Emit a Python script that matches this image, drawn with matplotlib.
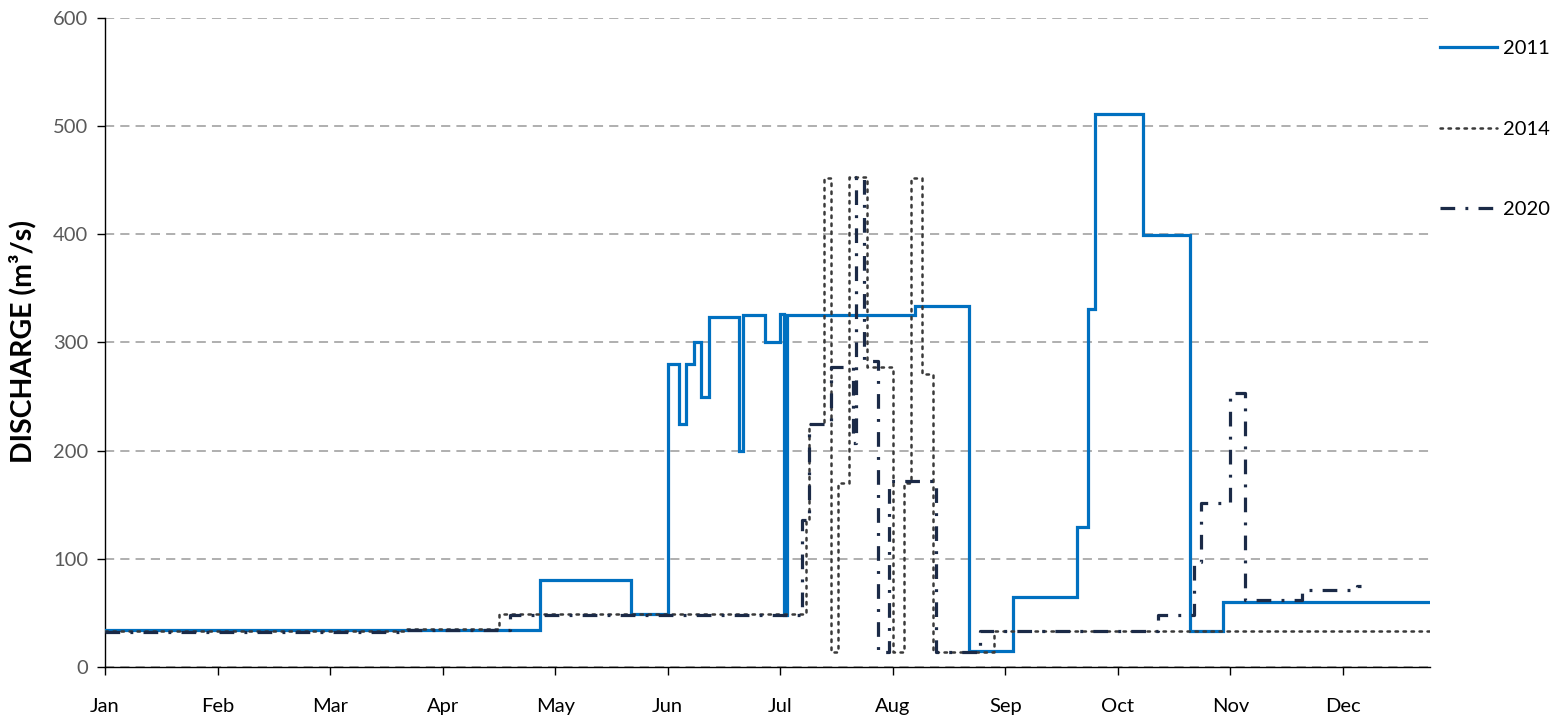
import matplotlib
matplotlib.use("Agg")
import matplotlib.pyplot as plt
from matplotlib.lines import Line2D

plt.rcParams['font.family'] = ['Lato', 'DejaVu Sans']

# ---- data (month-day, discharge m3/s) : step series ----
months = ["Jan", "Feb", "Mar", "Apr", "May", "Jun", "Jul", "Aug", "Sep", "Oct", "Nov", "Dec"]

dates_2011 = ["01-01", "04-27", "05-22", "06-01", "06-04", "06-06", "06-08", "06-10", "06-12",
              "06-20", "06-21", "06-27", "07-01", "07-02", "07-03", "08-07", "08-22", "09-03",
              "09-20", "09-23", "09-25", "10-08", "10-21", "10-30", "12-25"]
flow_2011 = [34, 80, 49, 280, 225, 280, 300, 250, 324,
             200, 325, 300, 326, 48, 325, 334, 15, 65,
             129, 331, 511, 399, 33, 60, 60]

dates_2014 = ["01-01", "03-22", "04-16", "07-08", "07-09", "07-13", "07-15", "07-17", "07-20",
              "07-25", "08-01", "08-04", "08-06", "08-09", "08-12", "08-29", "12-25"]
flow_2014 = [33, 35, 49, 136, 225, 452, 14, 170, 453,
             277, 14, 170, 452, 271, 14, 33, 33]

dates_2020 = ["01-01", "03-22", "04-19", "07-07", "07-09", "07-15", "07-21", "07-22", "07-24",
              "07-28", "07-31", "08-13", "08-25", "10-12", "10-22", "10-24", "11-01", "11-05",
              "11-20", "12-05", "12-06"]
flow_2020 = [32, 34, 48, 136, 225, 277, 207, 453, 283,
             14, 172, 14, 33, 48, 97, 152, 253, 62,
             71, 75, 75]

days_in_month = [31, 28, 31, 30, 31, 30, 31, 31, 30, 31, 30, 31]


def month_pos(md):
    m, d = (int(v) for v in md.split("-"))
    return (m - 1) + (d - 1) / days_in_month[m - 1]


fig = plt.figure(figsize=(15.64, 7.16), dpi=100)
ax = fig.add_axes([105 / 1564, 1 - 667 / 716, (1430 - 105) / 1564, (667 - 18) / 716])

c2011 = "#0070C0"
c2014 = "#3a3a3a"
c2020 = "#1B2A47"
ls2014 = (0, (1, 2.2))
ls2020 = (0, (4.6, 3.2, 0.9, 3.2))

x11 = [month_pos(d) for d in dates_2011]
x14 = [month_pos(d) for d in dates_2014]
x20 = [month_pos(d) for d in dates_2020]

ax.step(x11, flow_2011, where="post", color=c2011, lw=2.3, solid_joinstyle="miter", zorder=3)
ax.step(x14, flow_2014, where="post", color=c2014, lw=1.8, linestyle=ls2014,
        dash_capstyle="round", zorder=4)
ax.step(x20, flow_2020, where="post", color=c2020, lw=2.3, linestyle=ls2020,
        dash_capstyle="butt", zorder=5)

ax.set_xlim(0, month_pos("12-25"))
ax.set_ylim(0, 600)
ax.set_yticks(range(0, 601, 100))
ax.set_xticks(range(12))
ax.set_xticklabels(months)

ax.yaxis.grid(True, linestyle=(0, (6, 4)), color="#9a9a9a", lw=1.1)
ax.set_axisbelow(True)
for s in ["top", "right"]:
    ax.spines[s].set_visible(False)
for s in ["left", "bottom"]:
    ax.spines[s].set_color("black")
    ax.spines[s].set_linewidth(1.0)

ax.tick_params(axis="y", direction="out", length=6, width=1, colors="black", labelcolor="#595959",
               labelsize=14.5, pad=6)
ax.tick_params(axis="x", direction="out", length=6, width=1, colors="black", labelcolor="black",
               labelsize=14.5, pad=16)

ax.set_ylabel("DISCHARGE (m³/s)", fontsize=20.5, fontweight="bold", color="black", va="center")
ax.yaxis.set_label_coords((23 - 105) / 1325, (667 - 342) / 649)

handles = [
    Line2D([], [], color=c2011, lw=2.3),
    Line2D([], [], color=c2014, lw=1.8, linestyle=ls2014, dash_capstyle="round"),
    Line2D([], [], color=c2020, lw=2.3, linestyle=ls2020, dash_capstyle="butt"),
]
fig.legend(handles, ["2011", "2014", "2020"], loc="upper left",
           bbox_to_anchor=(1440 / 1564, 1 - 40 / 716), frameon=False, fontsize=14.5,
           handlelength=2.85, handletextpad=0.3, labelspacing=3.15, borderaxespad=0, borderpad=0)

fig.savefig("out.png", dpi=100)
